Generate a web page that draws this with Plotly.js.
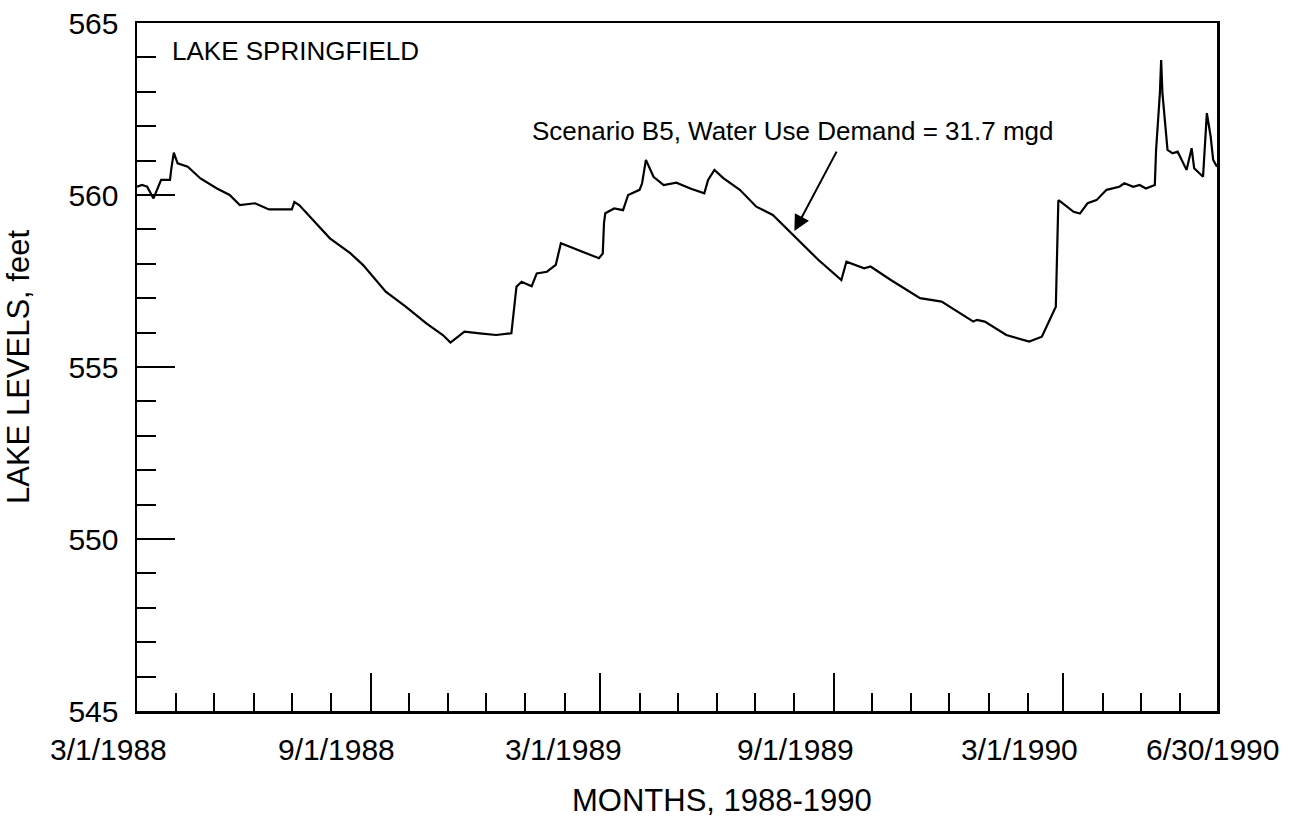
<!DOCTYPE html>
<html>
<head>
<meta charset="utf-8">
<script src="https://cdn.plot.ly/plotly-3.0.1.min.js"></script>
<style>html,body{margin:0;padding:0;background:#fff;}#chart{width:1299px;height:820px;}</style>
</head>
<body>
<div id="chart"></div>
<script>
// ---- data ----
const dates = [
  '1988-03-01','1988-03-05','1988-03-09','1988-03-14','1988-03-20','1988-03-27','1988-03-28','1988-03-30',
  '1988-04-02','1988-04-10','1988-04-20','1988-05-03','1988-05-13','1988-05-21','1988-06-02','1988-06-13',
  '1988-07-01','1988-07-03','1988-07-07','1988-07-18','1988-07-31','1988-08-16','1988-08-26','1988-09-13',
  '1988-09-29','1988-10-15','1988-10-28','1988-11-03','1988-11-14','1988-11-26','1988-12-09','1988-12-21',
  '1988-12-25','1988-12-29','1989-01-06','1989-01-10','1989-01-18','1989-01-25','1989-01-29','1989-02-28',
  '1989-03-03','1989-03-04','1989-03-05','1989-03-12','1989-03-19','1989-03-23','1989-04-01','1989-04-03',
  '1989-04-06','1989-04-12','1989-04-20','1989-04-30','1989-05-11','1989-05-22','1989-05-25','1989-05-30',
  '1989-06-06','1989-06-19','1989-07-02','1989-07-15','1989-07-24','1989-08-03','1989-08-20','1989-09-07',
  '1989-09-11','1989-09-25','1989-09-30','1989-10-16','1989-10-25','1989-11-08','1989-11-25','1989-12-20',
  '1989-12-23','1989-12-29','1990-01-15','1990-02-02','1990-02-12','1990-02-20','1990-02-23','1990-02-25',
  '1990-02-27','1990-03-09','1990-03-14','1990-03-20','1990-03-27','1990-04-04','1990-04-14','1990-04-18',
  '1990-04-25','1990-04-30','1990-05-05','1990-05-12','1990-05-13','1990-05-16','1990-05-17','1990-05-18',
  '1990-05-22','1990-05-26','1990-05-30','1990-06-06','1990-06-10','1990-06-12','1990-06-19','1990-06-22',
  '1990-06-25','1990-06-27','1990-06-30'
];
const levels = [
  560.24,560.29,560.24,559.90,560.44,560.44,560.75,561.23,
  560.92,560.82,560.48,560.19,560.00,559.71,559.76,559.58,
  559.58,559.80,559.70,559.27,558.74,558.31,557.97,557.19,
  556.75,556.27,555.93,555.71,556.03,555.98,555.93,555.98,
  557.33,557.48,557.35,557.72,557.77,557.97,558.60,558.16,
  558.30,559.20,559.47,559.61,559.56,560.00,560.15,560.34,
  561.02,560.53,560.29,560.36,560.19,560.05,560.44,560.73,
  560.49,560.15,559.66,559.42,559.10,558.74,558.11,557.53,
  558.06,557.87,557.92,557.53,557.33,557.00,556.90,556.32,
  556.37,556.32,555.93,555.74,555.88,556.51,556.75,559.85,
  559.80,559.51,559.46,559.76,559.85,560.15,560.24,560.34,
  560.24,560.29,560.19,560.29,561.31,562.96,563.92,562.96,
  561.31,561.21,561.26,560.73,561.36,560.78,560.53,562.38,
  561.70,561.02,560.82
];
const xTickDates = ['1988-03-01','1988-09-01','1989-03-01','1989-09-01','1990-03-01','1990-06-30'];
const xTickText = ['3/1/1988','9/1/1988','3/1/1989','9/1/1989','3/1/1990','6/30/1990'];
const yTickVals = [545, 550, 555, 560, 565];
const yTickText = ['545', '550', '555', '560', '565'];
const seriesLabel = 'Scenario B5, Water Use Demand = 31.7 mgd';
const arrowDate = '1989-08-01';
const arrowLevel = 558.95;

// ---- layout helpers (positions only) ----
const FONT = 'Liberation Sans, Arial, Helvetica, sans-serif';
const xLabelShift = [-29, -34, -37, -38, -44, -5];

const annotations = xTickDates.map((d, i) => ({
  x: d, xref: 'x', y: 0, yref: 'paper',
  text: xTickText[i], showarrow: false,
  xanchor: 'center', yanchor: 'middle',
  xshift: xLabelShift[i], yshift: -38,
  font: {family: FONT, size: 30, color: '#000'}
}));
annotations.push({
  x: 0.5 + 45 / 1080, xref: 'paper', y: 0, yref: 'paper',
  text: 'MONTHS, 1988-1990', showarrow: false,
  xanchor: 'center', yanchor: 'middle', yshift: -89,
  font: {family: FONT, size: 31, color: '#000'}
});
annotations.push({
  x: 0.0306, xref: 'paper', y: 0.9593, yref: 'paper',
  text: 'LAKE SPRINGFIELD', showarrow: false,
  xanchor: 'left', yanchor: 'middle',
  font: {family: FONT, size: 26, color: '#000'}
});
annotations.push({
  x: 0.6074, xref: 'paper', y: 0.843, yref: 'paper',
  text: seriesLabel, showarrow: false,
  xanchor: 'center', yanchor: 'middle',
  font: {family: FONT, size: 26, color: '#000'}
});
annotations.push({
  x: arrowDate, xref: 'x', y: arrowLevel, yref: 'y',
  text: '', showarrow: true, arrowhead: 2, arrowsize: 1.6, arrowwidth: 2,
  arrowcolor: '#000', ax: 43, ay: -81, standoff: 0
});

const trace = {
  x: dates, y: levels, type: 'scatter', mode: 'lines',
  line: {color: '#000', width: 2.2},
  name: seriesLabel, hoverinfo: 'x+y'
};

const layout = {
  width: 1299, height: 820,
  margin: {l: 137, r: 82, t: 23, b: 109, pad: 0},
  paper_bgcolor: '#fff', plot_bgcolor: '#fff',
  showlegend: false,
  font: {family: FONT, color: '#000'},
  xaxis: {
    type: 'date', range: ['1988-03-01', '1990-06-30'],
    tickmode: 'array', tickvals: xTickDates, ticktext: xTickText,
    showticklabels: false,
    ticks: 'inside', ticklen: 38, tickwidth: 2, tickcolor: '#000',
    minor: {dtick: 'M1', tick0: '1988-03-01', ticks: 'inside', ticklen: 18, tickwidth: 2, tickcolor: '#000', showgrid: false},
    showline: true, linecolor: '#000', linewidth: 2.5, mirror: true,
    showgrid: false, zeroline: false, fixedrange: true
  },
  yaxis: {
    range: [545, 565],
    tickmode: 'array', tickvals: yTickVals, ticktext: yTickText,
    ticks: 'inside', ticklen: 38, tickwidth: 2, tickcolor: '#000',
    minor: {dtick: 1, tick0: 545, ticks: 'inside', ticklen: 19, tickwidth: 2, tickcolor: '#000', showgrid: false},
    tickfont: {family: FONT, size: 30, color: '#000'},
    ticklabelstandoff: 10,
    showline: true, linecolor: '#000', linewidth: 2.5, mirror: true,
    showgrid: false, zeroline: false, fixedrange: true,
    title: {text: 'LAKE LEVELS, feet', font: {family: FONT, size: 31, color: '#000'}, standoff: 30}
  },
  annotations: annotations
};

Plotly.newPlot('chart', [trace], layout, {displayModeBar: false, staticPlot: true});
</script>
</body>
</html>
